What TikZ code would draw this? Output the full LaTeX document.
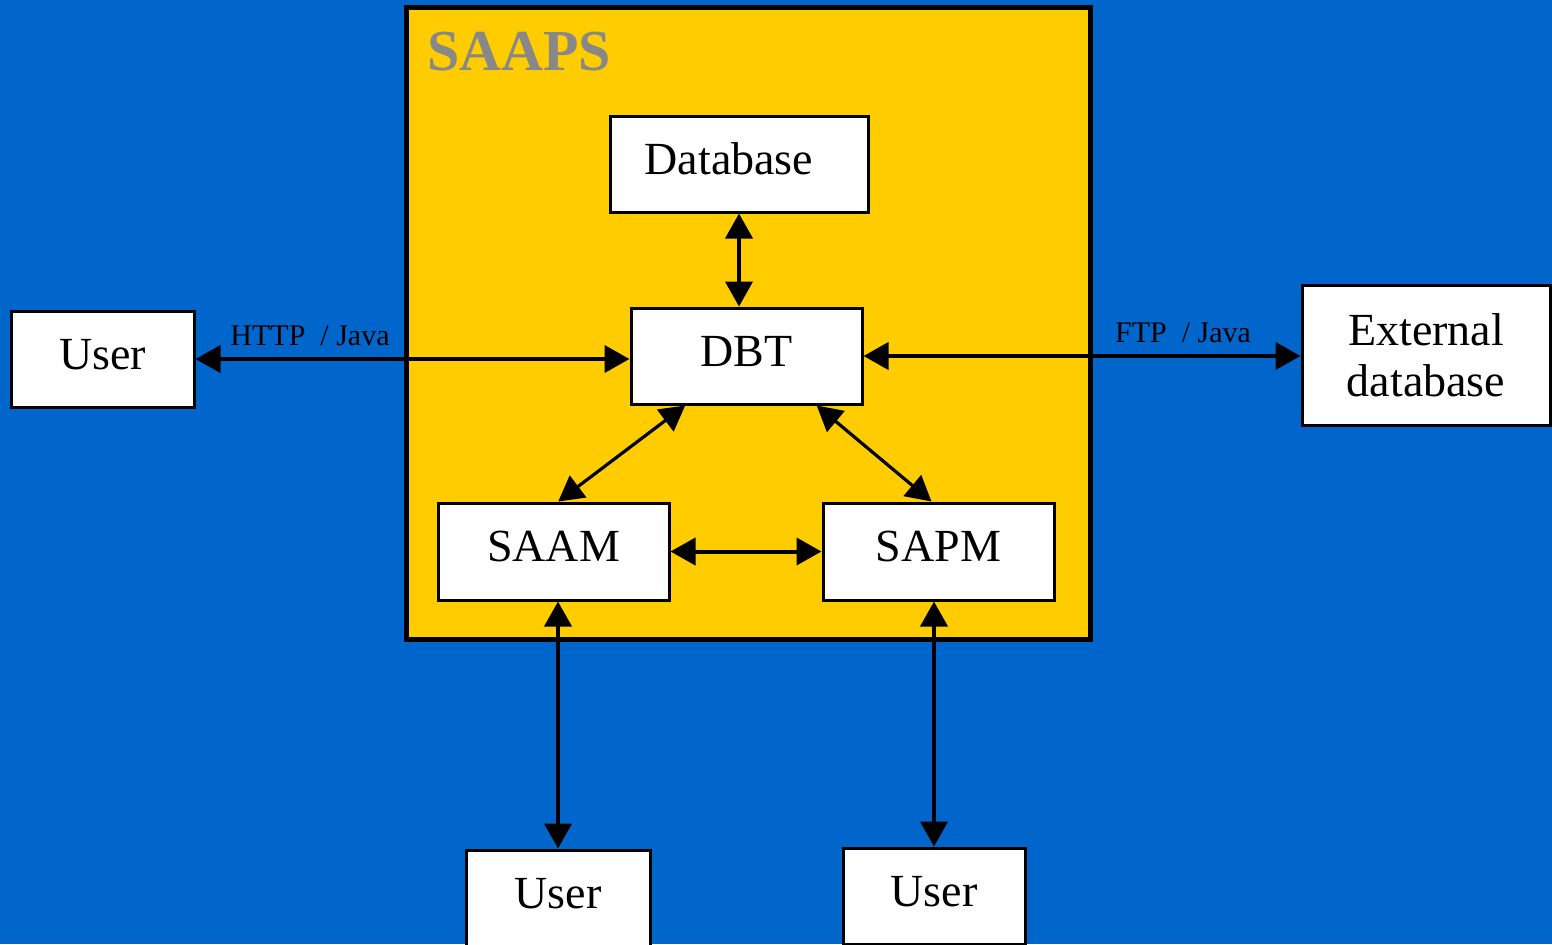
\documentclass[tikz,border=0pt]{standalone}
\usepackage{fontspec}
\setmainfont{Liberation Serif}
\usetikzlibrary{arrows.meta,calc}
\definecolor{bgblue}{HTML}{0066CC}
\definecolor{saapsyellow}{HTML}{FFCC00}
\definecolor{saapsgray}{HTML}{888888}
\tikzset{
  box/.style={draw=black, line width=1.5pt, fill=white, inner sep=0pt,
    font=\fontsize{23}{25.5}\selectfont, text height=15.2pt, text depth=5pt},
  biarrow/.style={line width=2pt, {Triangle[length=12.5pt,width=13.5pt]}-{Triangle[length=12.5pt,width=13.5pt]}},
  diagarrow/.style={line width=1.6pt, {Triangle[length=12.5pt,width=13.5pt]}-{Triangle[length=12.5pt,width=13.5pt]}},
  lbl/.style={font=\fontsize{15}{18}\selectfont, anchor=base, inner sep=0pt}
}
\begin{document}
\begin{tikzpicture}[x=0.5pt,y=-0.5pt]
\useasboundingbox (0,0) rectangle (1552,944);
\fill[bgblue] (0,0) rectangle (1552,944);
% SAAPS frame
\node[draw=black, line width=2.5pt, fill=saapsyellow, inner sep=0pt,
  minimum width=342pt, minimum height=316pt] (frame) at (748,323) {};
\node[anchor=base west, inner sep=0pt, text=saapsgray,
  font=\fontsize{29}{32}\selectfont\bfseries] (title) at (427,70) {SAAPS};
% boxes
\node[box, minimum width=129pt, minimum height=48pt] (db) at (739,164) {Database\hspace*{10pt}};
\node[box, minimum width=115.5pt, minimum height=48pt] (dbt) at (746.5,356) {DBT};
\node[box, minimum width=115.5pt, minimum height=48.5pt] (saam) at (553.5,551.5) {SAAM};
\node[box, minimum width=115.5pt, minimum height=48.5pt] (sapm) at (938.5,551.5) {SAPM};
\node[box, minimum width=91.5pt, minimum height=48pt] (userl) at (102.5,359) {User};
\node[box, minimum width=124pt, minimum height=70pt, align=center,
  text height=, text depth=] (ext) at (1426,355) {External\\database};
\node[box, minimum width=92pt, minimum height=48pt] (userb1) at (558,898) {User};
\node[box, minimum width=91pt, minimum height=48pt] (userb2) at (934,896) {User};
% connectors
\draw[biarrow] (db.south) -- (db.south |- dbt.north);
\draw[biarrow] (userl.east) -- (userl.east -| dbt.west);
\draw[biarrow] (dbt.east) -- (dbt.east -| ext.west);
\draw[diagarrow] ($(dbt.south west)!0.238!(dbt.south east)$) -- ($(saam.north west)!0.52!(saam.north east)$);
\draw[diagarrow] ($(dbt.south west)!0.80!(dbt.south east)$) -- ($(sapm.north west)!0.47!(sapm.north east)$);
\draw[biarrow] (saam.east) -- (sapm.west);
\draw[biarrow] (userb1.north) -- (userb1.north |- saam.south);
\draw[biarrow] (userb2.north) -- (userb2.north |- sapm.south);
% labels
\node[lbl] (http) at (310,345) {HTTP\ \ / Java};
\node[lbl] (ftp) at (1183,342) {FTP\ \ / Java};
\end{tikzpicture}
\end{document}
